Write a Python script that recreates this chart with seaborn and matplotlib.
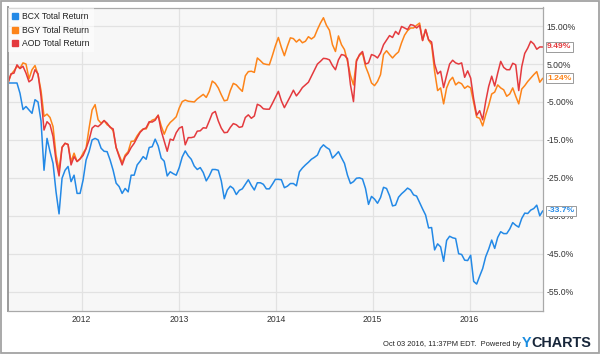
import numpy as np
import pandas as pd
import matplotlib
matplotlib.use("Agg")
import matplotlib.pyplot as plt
import seaborn as sns
from matplotlib.lines import Line2D
from matplotlib.patches import Rectangle

# ---------------- data ----------------
series_names = ["BCX Total Return", "BGY Total Return", "AOD Total Return"]
series_colors = ["#2389e6", "#fd8419", "#e43a3e"]

start_date = "2011-03-29"
end_date = "2016-10-03"

bcx = [0.0, 0.0, 0.0, 0.0, -2.7, -7.0, -6.2, -7.1, -8.0, -4.4, -5.0, -10.0, -23.0, -14.6, -18.1, -21.2,
       -28.7, -34.5, -25.1, -23.0, -22.0, -26.0, -24.3, -29.1, -29.1, -25.6, -20.3, -18.1, -15.0, -14.6,
       -15.0, -17.2, -18.0, -18.1, -20.3, -23.0, -26.4, -27.3, -29.1, -27.8, -28.7, -24.3, -24.3, -21.6,
       -20.6, -19.4,
       -20.1, -17.0, -16.8, -14.8, -16.6, -19.8, -20.6, -24.5, -23.4, -23.9, -24.3, -22.3, -19.5, -17.9,
       -19.2, -20.1, -21.9, -22.8, -22.3, -23.6, -25.8, -24.5, -22.8, -22.8, -23.0, -25.8, -30.5, -28.2,
       -27.2, -27.8, -29.4, -28.3, -27.9, -26.7, -25.5, -27.0, -28.2, -26.3, -26.3, -26.7, -27.9, -27.9,
       -26.7, -25.4, -25.4,
       -25.5, -27.6, -27.2, -26.5, -26.5, -27.1, -23.4, -22.4, -21.6, -20.9, -20.1, -19.6, -19.0, -17.2,
       -16.3, -17.0, -17.5, -19.8, -19.0, -18.1, -19.7, -21.2, -24.3, -26.5, -26.0, -25.1, -25.0, -25.3,
       -27.8, -32.0, -29.9, -30.6, -31.7, -30.2, -27.5, -27.8, -29.7, -32.4, -32.2, -30.1, -29.2, -28.5,
       -27.7, -28.2, -29.5,
       -29.8, -31.5, -33.2, -34.8, -38.2, -38.1, -44.0, -42.4, -43.2, -47.0, -41.5, -40.4, -40.8, -41.0,
       -45.0, -45.2, -46.7, -46.8, -45.4, -52.3, -53.0, -50.9, -48.9, -45.8, -43.8, -41.4, -43.6, -40.7,
       -39.2, -39.7, -39.7, -38.5, -36.8, -37.5, -38.0, -35.7, -34.3, -34.4, -33.5, -33.1, -32.2, -35.0,
       -33.7]

bgy = [0.0, 2.2, 3.2, 4.4, 3.9, 5.3, 5.0, 1.1, 3.5, 4.6, 2.2, -2.0, -8.8, -8.2, -9.1, -11.5,
       -19.0, -23.0, -16.9, -15.9, -16.2, -20.7, -18.5, -20.7, -20.0, -18.5, -17.2, -11.9, -7.1, -5.7,
       -9.7, -10.6, -9.9, -11.0, -11.5, -12.6, -17.0, -19.0, -21.0, -19.0, -18.1, -15.4, -15.3, -13.9,
       -12.8, -12.1,
       -12.1, -10.5, -9.8, -9.5, -8.5, -11.3, -13.5, -11.5, -10.4, -9.7, -8.9, -6.6, -4.9, -4.5,
       -4.8, -4.9, -5.0, -4.2, -3.6, -3.0, -3.8, -2.2, 0.5, -0.1, -1.3, -3.1, -4.7, -4.5,
       -2.0, -0.1, -0.5, -1.4, -2.2, 1.9, 3.0, 3.1, 2.8, 6.6, 5.9, 5.1, 4.9, 4.8,
       7.2, 9.8, 12.0,
       9.4, 7.2, 9.7, 11.9, 11.7, 10.8, 11.5, 10.6, 11.0, 12.2, 11.6, 12.2, 14.1, 15.8,
       17.2, 15.2, 13.9, 10.1, 8.3, 12.4, 10.1, 8.8, 5.7, 2.0, -0.5, 6.1, 7.3, 7.9,
       4.4, 2.4, 0.0, -0.7, 0.4, 2.2, 7.5, 8.5, 7.5, 6.6, 7.5, 8.2, 10.6, 12.6,
       13.8, 14.5, 14.5,
       15.2, 15.8, 11.2, 14.1, 11.3, 10.1, 3.1, -2.0, -1.3, -5.5, -1.3, 0.6, 1.5, -0.5,
       0.2, -0.2, -1.4, -0.8, -1.3, -5.1, -9.0, -9.3, -11.3, -8.4, -5.9, -2.9, -2.4, -0.5,
       -1.3, -1.8, -3.5, -2.9, -1.3, -3.5, -5.5, -1.6, -0.7, 0.4, 1.3, 2.2, 3.0, 0.2,
       1.24]

aod = [0.0, 2.4, 2.6, 4.8, 3.8, 4.4, 2.6, 0.3, 0.9, 3.5, 2.4, -3.5, -12.4, -10.2, -11.0, -14.1,
       -20.5, -24.5, -17.0, -15.9, -16.2, -21.6, -19.4, -20.7, -20.0, -19.1, -17.3, -15.0, -11.9, -11.2,
       -11.5, -10.8, -9.9, -10.6, -11.7, -12.1, -17.0, -19.4, -21.6, -19.4, -18.5, -17.0, -15.9, -14.4,
       -13.0, -12.2,
       -11.8, -10.2, -10.3, -9.8, -8.5, -12.6, -15.3, -18.0, -14.8, -15.1, -13.1, -11.9, -11.5, -16.3,
       -14.4, -14.4, -14.2, -12.7, -12.6, -11.8, -11.9, -10.0, -8.0, -7.5, -10.0, -11.9, -13.1, -13.0,
       -11.7, -10.7, -11.0, -11.7, -11.5, -9.1, -8.4, -9.3, -8.7, -5.6, -6.0, -6.8, -6.9, -6.9,
       -5.4, -3.8, -2.2,
       -4.7, -6.5, -5.0, -3.5, -1.9, -3.4, -2.4, -1.2, -0.5, 0.2, 1.8, 3.4, 5.0, 5.7,
       6.5, 6.4, 6.1, 4.6, 3.5, 6.1, 7.5, 7.3, 6.4, -0.5, -4.9, 5.7, 7.5, 8.3,
       5.0, 5.3, 7.5, 7.2, 6.6, 7.9, 10.1, 11.3, 12.5, 12.0, 13.6, 12.8, 14.9, 14.5,
       14.1, 15.4, 15.2,
       14.5, 15.2, 11.2, 14.1, 11.4, 10.8, 5.0, 2.4, 3.1, -1.2, 2.0, 5.0, 6.0, 5.3,
       5.0, 5.3, 1.5, 3.2, 1.3, -4.2, -8.5, -7.3, -9.7, -4.9, -0.9, 1.8, -0.8, 2.6,
       5.7, 4.1, 3.5, 3.5, 5.2, 4.8, -2.0, 4.3, 7.8, 9.2, 11.0, 10.3, 8.9, 9.5,
       9.49]

end_labels = ["-33.7%", "1.24%", "9.49%"]
y_ticks = [15, 5, -5, -15, -25, -35, -45, -55]
y_tick_labels = ["15.00%", "5.00%", "-5.00%", "-15.0%", "-25.0%", "-35.0%", "-45.0%", "-55.0%"]
x_tick_years = [2012, 2013, 2014, 2015, 2016]
footer_text = "Oct 03 2016, 11:37PM EDT.  Powered by"

# ---------------- plot ----------------
sns.set_theme(style="white")
plt.rcParams['font.family'] = ['Liberation Sans', 'DejaVu Sans']

dates = pd.date_range(start_date, end_date, periods=len(bcx))
n = len(dates)
df = pd.DataFrame({
    "date": np.tile(dates, 3),
    "value": bcx + bgy + aod,
    "series": np.repeat(series_names, n),
})

W, H = 600, 354
fig = plt.figure(figsize=(W / 100, H / 100), dpi=100)
fig.patch.set_facecolor("white")
ax_l, ax_r, ax_t, ax_b = 7.7, 543.3, 7.5, 311.0
ax = fig.add_axes([ax_l / W, 1 - ax_b / H, (ax_r - ax_l) / W, (ax_b - ax_t) / H])
ax.set_facecolor("#f7f7f7")

sns.lineplot(data=df, x="date", y="value", hue="series", hue_order=series_names,
             palette=series_colors, linewidth=1.1, ax=ax, legend=False)

ax.set_xlim(pd.Timestamp("2011-03-28"), pd.Timestamp("2016-10-05"))
ax.set_ylim(-60.1, 19.9)

ax.set_xticks([pd.Timestamp(f"{y}-01-01") for y in x_tick_years])
ax.set_xticklabels([str(y) for y in x_tick_years])
ax.yaxis.tick_right()
ax.set_yticks(y_ticks)
ax.set_yticklabels(y_tick_labels)
ax.tick_params(axis="x", length=0, pad=3.2, labelsize=6.2, labelcolor="#333333")
ax.tick_params(axis="y", length=0, pad=2.4, labelsize=6.2, labelcolor="#333333")
ax.set_xlabel("")
ax.set_ylabel("")
ax.grid(True, color="#e2e2e2", linewidth=0.9)
ax.set_axisbelow(True)
for name, sp in ax.spines.items():
    sp.set_visible(True)
    sp.set_color("#a9a9a9")
    sp.set_linewidth(0.9)
ax.spines["left"].set_linewidth(1.4)
ax.spines["left"].set_color("#9a9a9a")

# legend
handles = [Line2D([], [], marker="s", linestyle="", color=c, markersize=4.2) for c in series_colors]
leg = ax.legend(handles, series_names, loc="upper left", fontsize=6.2, frameon=True,
                facecolor="white", framealpha=0.55, edgecolor="none", fancybox=False,
                handlelength=0.7, handletextpad=0.4, labelspacing=0.5,
                borderaxespad=0.05, borderpad=0.5)
for t in leg.get_texts():
    t.set_color("#222222")

# end value labels
series_vals = [bcx, bgy, aod]
for vals, lab, c in zip(series_vals, end_labels, series_colors):
    ax.annotate(lab, xy=(dates[-1], vals[-1]), xytext=(3.2, 0), textcoords="offset points",
                ha="left", va="center", fontsize=6.1, fontweight="bold", color=c,
                annotation_clip=False, zorder=10,
                bbox=dict(boxstyle="square,pad=0.2", fc="white", ec="#9a9a9a", lw=0.7))

# footer
fig.text(382.7 / W, 1 - 346.5 / H, footer_text, fontsize=5.4, ha="left", va="baseline",
         color="#222222")
fig.text(521.7 / W, 1 - 347.3 / H, "Y", fontsize=10.4, fontweight="bold", ha="left",
         va="baseline", color="#1a8ce0")
fig.text(591.7 / W, 1 - 347.3 / H, "CHARTS", fontsize=10.4, fontweight="bold", ha="right",
         va="baseline", color="#17263a")

# outer border
fig.patches.append(Rectangle((0.8 / W, 0.8 / H), 1 - 1.6 / W, 1 - 1.6 / H,
                             transform=fig.transFigure, fill=False, ec="#a3a3a3", lw=1.3))

fig.savefig("out.png", dpi=100)
